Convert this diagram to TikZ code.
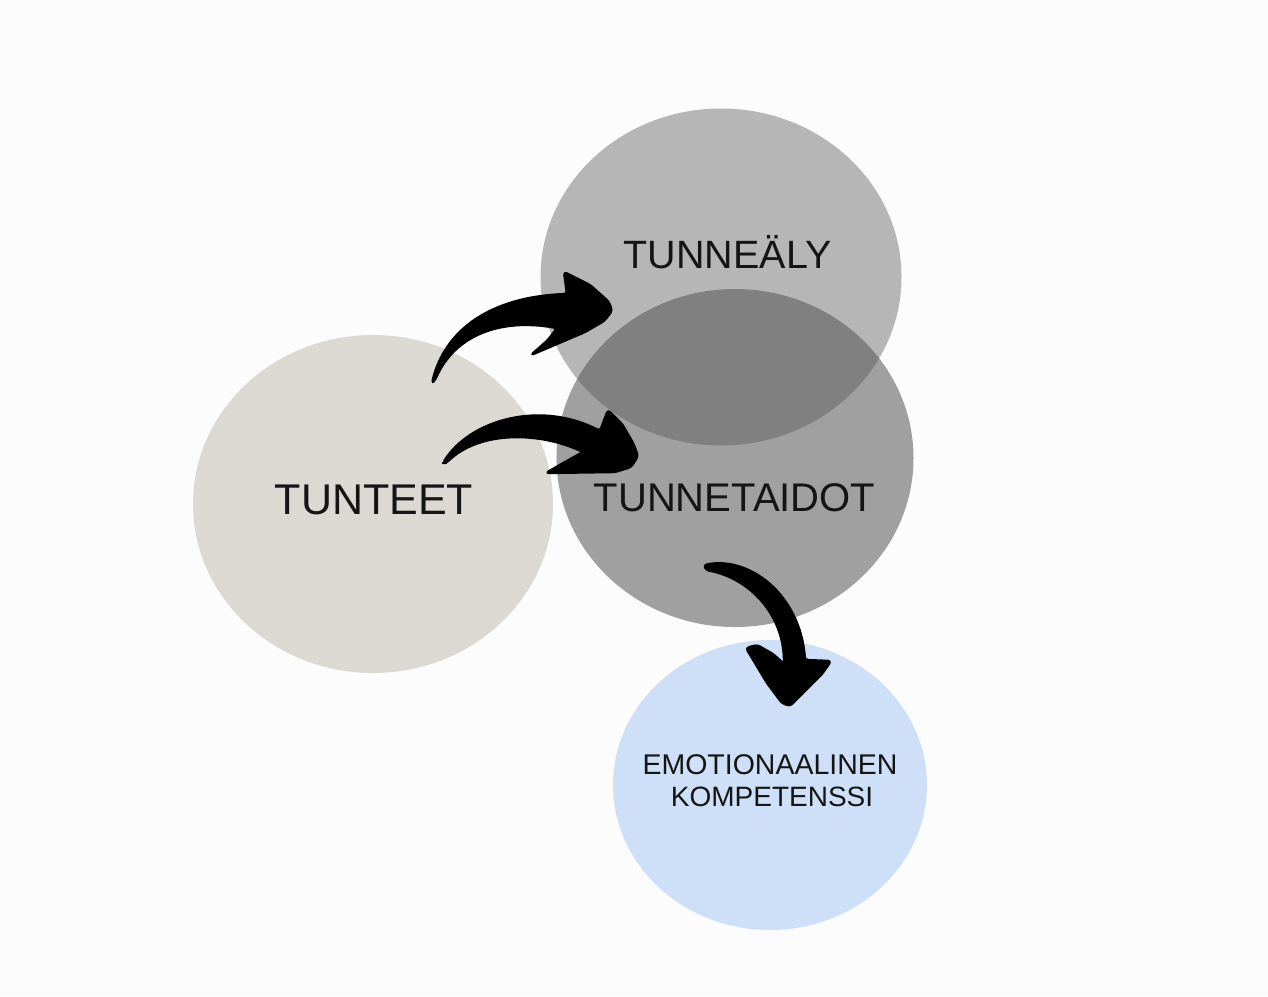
\documentclass[tikz,border=0pt]{standalone}
\usepackage{fontspec}
\setmainfont{Liberation Sans}
\usetikzlibrary{shapes.geometric}
\definecolor{bgc}{HTML}{FCFCFC}
\definecolor{cTunteet}{HTML}{DCD8D2}
\definecolor{cAly}{HTML}{B6B6B6}
\definecolor{cTaidot}{HTML}{555555}
\definecolor{cKomp}{HTML}{CEE0F8}
\definecolor{txt}{HTML}{151515}
\begin{document}
\begin{tikzpicture}[x=1pt,y=-1pt,
  blob/.style={ellipse, inner sep=0pt, draw=none},
  lbl/.style={text=txt, inner sep=0pt, anchor=base},
  brush/.style={fill=black, draw=black, line width=2.4pt, line join=round, rounded corners=3pt}]
\fill[bgc] (0,0) rectangle (1268,996);
\useasboundingbox (0,0) rectangle (1268,996);
% circles
\node[blob, fill=cTunteet, minimum width=360pt, minimum height=338pt] (tunteet) at (373,504) {};
\node[blob, fill=cAly, minimum width=361pt, minimum height=337pt] (aly) at (721,277) {};
\node[blob, fill=cTaidot, fill opacity=0.55, minimum width=357pt, minimum height=338pt] (taidot) at (735,458) {};
\node[blob, fill=cKomp, minimum width=314pt, minimum height=290pt] (komp) at (770,785) {};
% arrow end points
\coordinate (a1s) at (432,383);
\coordinate (a1e) at (612,311);
\coordinate (a2s) at (443,463);
\coordinate (a2e) at (638,456);
\coordinate (a3s) at (704,565);
\coordinate (a3e) at (790,706);
% arrow 1: tunteet -> tunneäly
\path[brush] (a1s) .. controls (445,330) and (490,297) .. (567,294) -- (564,272) -- (590,285) -- (609,302) -- (a1e)
  -- (604,321) -- (585,332) -- (531,355) -- (548,340) -- (557,328) .. controls (500,318) and (455,335) .. (435,380) -- cycle;
% arrow 2: tunteet -> tunnetaidot
\path[brush] (a2s) .. controls (470,420) and (540,400) .. (600,431) -- (608,410) -- (622,424) -- (633,443) -- (a2e)
  -- (631,467) -- (615,472) -- (546,473) -- (565,462) -- (583,452) .. controls (540,432) and (480,430) .. (446,463) -- cycle;
% arrow 3: tunnetaidot -> kompetenssi
\path[brush] (a3s) .. controls (750,556) and (800,595) .. (805,660) -- (831,661) -- (822,674) -- (802,694) -- (a3e)
  -- (782,703) -- (767,683) -- (746,648) -- (757,645) -- (773,654) -- (784,664) .. controls (784,615) and (750,578) .. (706,570) -- cycle;
% labels
\node[lbl, font=\fontsize{43pt}{50pt}\selectfont] (t1) at (374,514) {TUNTEET};
\node[lbl, font=\fontsize{39.5pt}{46pt}\selectfont] (t2) at (727.5,268) {TUNNEÄLY};
\node[lbl, font=\fontsize{40pt}{46pt}\selectfont] (t3) at (734.5,511) {TUNNETAIDOT};
\node[lbl, font=\fontsize{28.5pt}{32pt}\selectfont] (t4a) at (770,774) {EMOTIONAALINEN};
\node[lbl, font=\fontsize{28pt}{32pt}\selectfont] (t4b) at (772,806) {KOMPETENSSI};
\end{tikzpicture}
\end{document}
